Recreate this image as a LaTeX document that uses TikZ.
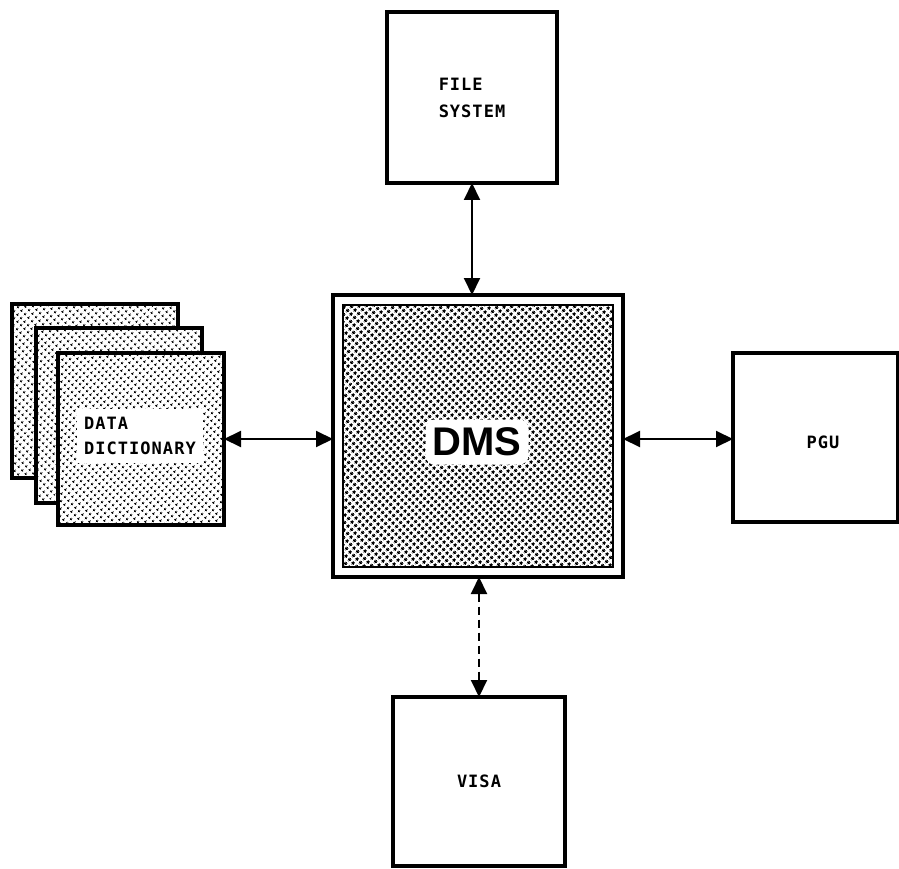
\documentclass[tikz,border=0pt]{standalone}
\usepackage{fontspec}
\usetikzlibrary{arrows.meta,patterns.meta}
\newfontfamily\monolabel[LetterSpace=6]{DejaVu Sans Mono}
\newfontfamily\headfont{Liberation Sans}

% dense halftone for the central DMS block
\tikzdeclarepattern{
  name=densedots,
  type=uncolored,
  bounding box={(0pt,0pt) and (5.2pt,5.2pt)},
  tile size={(5.2pt,5.2pt)},
  tile transformation={rotate=45},
  code={\fill (2.6pt,2.6pt) circle[radius=1.8pt];}
}
% lighter halftone for the data dictionary sheets
\tikzdeclarepattern{
  name=lightdots,
  type=uncolored,
  bounding box={(0pt,0pt) and (5.8pt,5.8pt)},
  tile size={(5.8pt,5.8pt)},
  tile transformation={rotate=45},
  code={\fill (2.9pt,2.9pt) circle[radius=1.55pt];}
}

\begin{document}
\begin{tikzpicture}[x=1pt,y=-1pt,
  box/.style={draw, rectangle, line width=3.5pt, inner sep=0pt, outer sep=0pt},
  sheet/.style={box, line width=4pt, preaction={fill=white}, pattern=lightdots, pattern color=black},
  tag/.style={font=\monolabel\bfseries\fontsize{17}{27}\selectfont, align=left},
  link/.style={line width=2pt,
    {Triangle[length=17pt,width=16pt]}-{Triangle[length=17pt,width=16pt]}},
]
\useasboundingbox (0,0) rectangle (899,869);

% file system
\node[box, tag, minimum width=170pt, minimum height=171pt] (fs) at (472,97.5) {FILE\\SYSTEM};

% central DMS block: double frame with halftone
\node[box, line width=4.5pt, minimum width=290pt, minimum height=282pt] (dms) at (478,436) {};
\draw[line width=2pt, pattern=densedots, pattern color=black]
  ([shift={(10,10)}]dms.north west) rectangle ([shift={(-10,-10)}]dms.south east);
\node[fill=white, rounded corners=9pt, inner sep=0pt, minimum width=103pt, minimum height=45pt,
  font=\headfont\bfseries\fontsize{40}{40}\selectfont] (dmstext) at (477,442) {DMS};

% data dictionary: stack of three sheets
\node[sheet, minimum width=166pt, minimum height=174pt] (ddback) at (95,391) {};
\node[sheet, minimum width=166pt, minimum height=175pt] (ddmid) at (119,415.5) {};
\node[sheet, minimum width=166pt, minimum height=172pt] (ddfront) at (141,439) {};
\node[fill=white, inner sep=0pt, minimum width=126pt, minimum height=54pt,
  font=\monolabel\bfseries\fontsize{17}{25}\selectfont, align=left] (ddtext) at (140,436) {DATA\\DICTIONARY};

% PGU
\node[box, minimum width=165pt, minimum height=169pt] (pgu) at (815.5,437.5) {};
\node[tag] (pgutext) at (823,442) {PGU};

% VISA
\node[box, tag, minimum width=172pt, minimum height=169pt] (visa) at (479,781.5) {VISA};

% connectors
\draw[link] (fs.south) -- (fs.south |- dms.north);
\draw[link] (ddfront.east) -- (ddfront.east -| dms.west);
\draw[link] (dms.east |- ddfront.east) -- (pgu.west |- ddfront.east);
\draw[link, dash pattern=on 8pt off 5pt] (visa.north |- dms.south) -- (visa.north);
\end{tikzpicture}
\end{document}
